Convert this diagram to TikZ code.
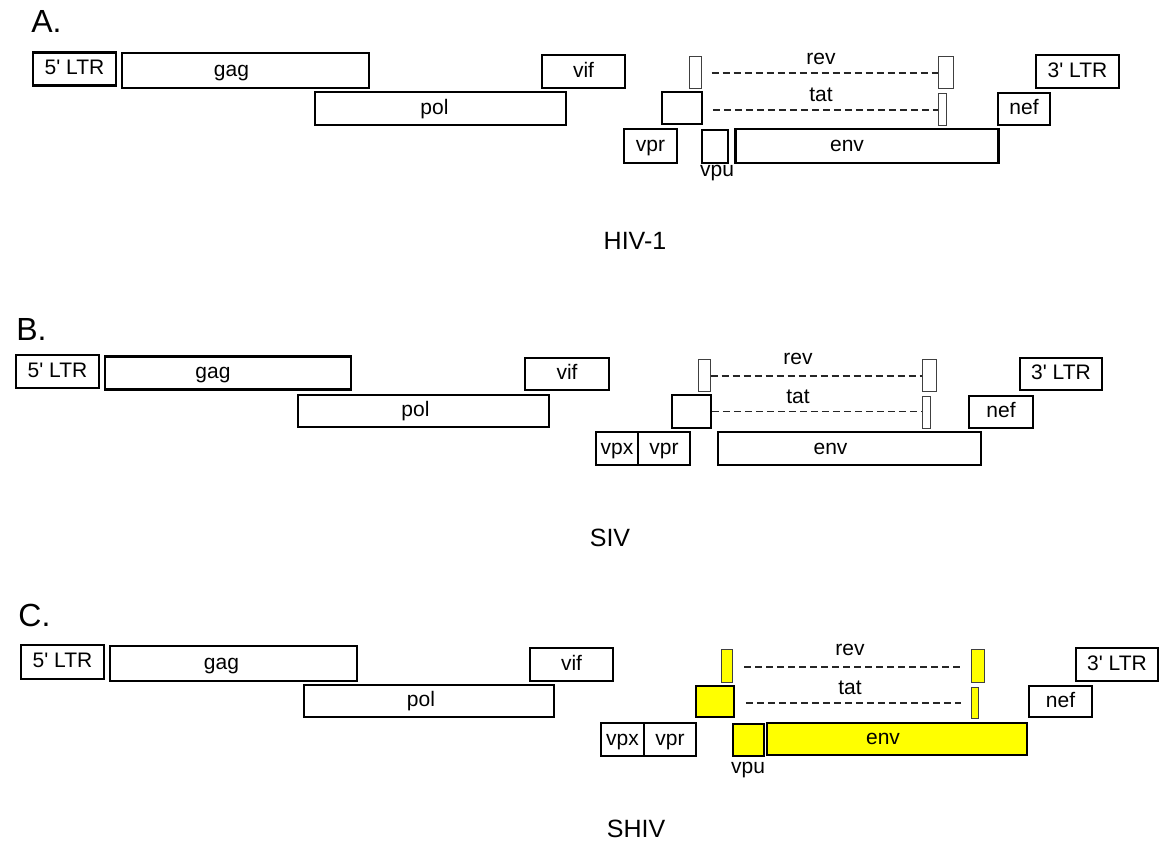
\documentclass[tikz,border=0pt]{standalone}
\usepackage{fontspec}
\setmainfont{Liberation Sans}
\usepackage{tikz}
\usetikzlibrary{positioning}
\definecolor{shivyellow}{RGB}{255, 255, 0}
\newcommand{\ltrquote}{\textquotesingle}

\begin{document}
\begin{tikzpicture}[
        x=0.5pt, y=-0.5pt,
        gene/.style={draw, line width=1.4pt, inner sep=0pt, text height=7.5pt, text depth=2pt, font=\fontsize{10.5}{12}\selectfont},
        midgene/.style={gene, line width=0.9pt},
        slimgene/.style={gene, line width=0.5pt, draw=black!75},
        yellowgene/.style={fill=shivyellow},
        tag/.style={inner sep=0pt, text height=7.5pt, text depth=2pt, font=\fontsize{10.5}{12}\selectfont},
        panel/.style={inner sep=0pt, anchor=west, font=\fontsize{16}{18}\selectfont},
        virus/.style={inner sep=0pt, font=\fontsize{12.5}{14}\selectfont},
        splice/.style={line width=0.7pt, draw=black!85, dash pattern=on 3.5pt off 2pt}
    ]
        \useasboundingbox (0, 0) rectangle (1160, 846);

        % A. HIV-1
        \node[panel] (labelA) at (31, 21.5) {A.};
        \node[gene, minimum width=41.5pt, minimum height=16.5pt] (ltr5A) at (74.5, 69) {5\ltrquote\ LTR};
        \node[gene, minimum width=123.5pt, minimum height=17.5pt] (gagA) at (245.5, 70.5) {gag\hspace*{14pt}};
        \node[gene, minimum width=41.5pt, minimum height=16.5pt] (vifA) at (583.5, 71.5) {vif};
        \node[gene, minimum width=125.5pt, minimum height=16.5pt] (polA) at (440.5, 108.5) {pol\hspace*{6pt}};
        \node[slimgene, minimum width=6pt, minimum height=16pt] (revA1) at (695, 72) {};
        \node[slimgene, minimum width=7.25pt, minimum height=16pt] (revA2) at (946, 72) {};
        \node[midgene, minimum width=20pt, minimum height=16pt] (tatA1) at (682, 108) {};
        \node[slimgene, minimum width=4pt, minimum height=16pt] (tatA2) at (942.5, 109) {};
        \node[midgene, minimum width=26pt, minimum height=16pt] (nefA) at (1024, 109) {nef};
        \node[gene, minimum width=41.5pt, minimum height=16.5pt] (ltr3A) at (1077.5, 71.5) {3\ltrquote\ LTR};
        \node[gene, minimum width=26.5pt, minimum height=17pt] (vprA) at (650.5, 146) {vpr};
        \node[midgene, minimum width=13pt, minimum height=16.5pt] (vpuA) at (715, 146.5) {};
        \node[gene, minimum width=131.5pt, minimum height=17pt] (envA) at (867, 146) {env\hspace*{20pt}};
        \node[tag] (revtagA) at (821, 58.5) {rev};
        \node[tag] (tattagA) at (821, 96) {tat};
        \node[tag] (vputagA) at (717, 171) {vpu};
        \node[virus] (hiv) at (635, 241) {HIV-1};

        \draw[splice] ([xshift=5pt, yshift=-0.5pt]revA1.east) -- ([yshift=-0.5pt]revA1.east -| revA2.west);
        \draw[splice] ([xshift=5pt, yshift=-1pt]tatA1.east) -- ([yshift=-1pt]tatA1.east -| tatA2.west);

        % B. SIV
        \node[panel] (labelB) at (16, 329) {B.};
        \node[gene, minimum width=41.5pt, minimum height=16.5pt] (ltr5B) at (57.5, 371.5) {5\ltrquote\ LTR};
        \node[gene, minimum width=123pt, minimum height=16.5pt] (gagB) at (228, 373) {gag\hspace*{15pt}};
        \node[gene, minimum width=42pt, minimum height=16pt] (vifB) at (567, 374) {vif};
        \node[gene, minimum width=125.5pt, minimum height=16pt] (polB) at (423.5, 411) {pol\hspace*{8pt}};
        \node[slimgene, minimum width=6pt, minimum height=16pt] (revB1) at (704, 375) {};
        \node[slimgene, minimum width=7pt, minimum height=16pt] (revB2) at (929, 375) {};
        \node[midgene, minimum width=19.5pt, minimum height=16.5pt] (tatB1) at (691.5, 411.5) {};
        \node[slimgene, minimum width=4pt, minimum height=16pt] (tatB2) at (926, 412) {};
        \node[gene, minimum width=32pt, minimum height=16pt] (nefB) at (1001, 412) {nef};
        \node[gene, minimum width=41pt, minimum height=16pt] (ltr3B) at (1061, 374) {3\ltrquote\ LTR};
        \node[midgene, minimum width=21pt, minimum height=16.5pt] (vpxB) at (617, 448.5) {vpx};
        \node[midgene, minimum width=26pt, minimum height=16.5pt] (vprB) at (664, 448.5) {vpr};
        \node[gene, minimum width=131.5pt, minimum height=16.5pt] (envB) at (849.5, 448.5) {env\hspace*{19pt}};
        \node[tag] (revtagB) at (798, 359) {rev};
        \node[tag] (tattagB) at (798, 398) {tat};
        \node[virus] (siv) at (610, 538) {SIV};

        \draw[splice] ([yshift=-0.5pt]revB1.east) -- ([yshift=-0.5pt]revB1.east -| revB2.west);
        \draw[splice] (tatB1.east) -- (tatB1.east -| tatB2.west);

        % C. SHIV
        \node[panel] (labelC) at (18, 615) {C.};
        \node[gene, minimum width=41.5pt, minimum height=17pt] (ltr5C) at (62.5, 662) {5\ltrquote\ LTR};
        \node[gene, minimum width=123.5pt, minimum height=17.5pt] (gagC) at (233.5, 663.5) {gag\hspace*{12pt}};
        \node[gene, minimum width=41.5pt, minimum height=16.5pt] (vifC) at (571.5, 664.5) {vif};
        \node[gene, minimum width=125pt, minimum height=16pt] (polC) at (429, 701) {pol\hspace*{8pt}};
        \node[slimgene, yellowgene, minimum width=5.5pt, minimum height=16.5pt] (revC1) at (727, 665.5) {};
        \node[slimgene, yellowgene, minimum width=6.5pt, minimum height=16.5pt] (revC2) at (977.5, 665.5) {};
        \node[midgene, yellowgene, minimum width=19pt, minimum height=15.5pt] (tatC1) at (715, 701.5) {};
        \node[slimgene, yellowgene, minimum width=3.5pt, minimum height=15.5pt] (tatC2) at (974.5, 702.5) {};
        \node[midgene, minimum width=31.5pt, minimum height=15.5pt] (nefC) at (1060.5, 701.5) {nef};
        \node[midgene, minimum width=41pt, minimum height=16.5pt] (ltr3C) at (1117, 664.5) {3\ltrquote\ LTR};
        \node[midgene, minimum width=21.5pt, minimum height=16.5pt] (vpxC) at (622.5, 739.5) {vpx};
        \node[midgene, minimum width=26pt, minimum height=16.5pt] (vprC) at (670, 739.5) {vpr};
        \node[midgene, yellowgene, minimum width=15.5pt, minimum height=16pt] (vpuC) at (748.5, 740) {};
        \node[gene, yellowgene, minimum width=130pt, minimum height=16pt] (envC) at (897, 739) {env\hspace*{14pt}};
        \node[tag] (revtagC) at (850, 650) {rev};
        \node[tag] (tattagC) at (850, 689) {tat};
        \node[tag] (vputagC) at (748, 768) {vpu};
        \node[virus] (shiv) at (636, 829) {SHIV};

        \draw[splice] ([xshift=5.5pt, yshift=-0.75pt]revC1.east) -- ([xshift=-5pt, yshift=-0.75pt]revC1.east -| revC2.west);
        \draw[splice] ([xshift=5.5pt, yshift=-0.75pt]tatC1.east) -- ([xshift=-5pt, yshift=-0.75pt]tatC1.east -| tatC2.west);
    \end{tikzpicture}
\end{document}
